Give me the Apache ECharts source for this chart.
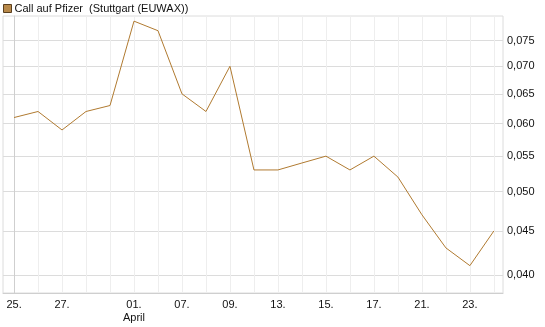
<!DOCTYPE html>
<html>
<head>
<meta charset="utf-8">
<script src="https://cdn.jsdelivr.net/npm/echarts@6/dist/echarts.min.js"></script>
<style>
  html, body { margin: 0; padding: 0; background: #fff; }
</style>
</head>
<body>
<div id="chart" style="width: 545px; height: 327px"></div>
<script>
// data points, one per trading day (index on the x axis)
const prices = [
  0.061, 0.062, 0.059, 0.062, 0.063, 0.079, 0.077, 0.065, 0.062, 0.070,
  0.053, 0.053, 0.054, 0.055, 0.053, 0.055, 0.052, 0.047, 0.043, 0.041, 0.045,
];
// labelled days: index -> label
const labelIndex = [0, 2, 5, 7, 9, 11, 13, 15, 17, 19];
const labelText = ["25.", "27.", "01.\nApril", "07.", "09.", "13.", "15.", "17.", "21.", "23."];
const yTicks = [0.04, 0.045, 0.05, 0.055, 0.06, 0.065, 0.07, 0.075];

const gridIndex = prices.map((v, i) => i);

let chart = echarts.init(document.getElementById("chart"));
let option = {
  animation: false,
  textStyle: { fontFamily: "Liberation Sans, Arial, sans-serif" },
  legend: {
    left: 3,
    top: 3,
    padding: 0,
    itemWidth: 8,
    itemHeight: 8,
    icon: "rect",
    textStyle: { fontSize: 11, color: "#111", padding: [0, 0, 0, -2] },
    data: [
      {
        name: "Call auf Pfizer  (Stuttgart (EUWAX))",
        itemStyle: { color: "#b8894a", borderColor: "#5a4020", borderWidth: 1 },
      },
    ],
  },
  grid: { left: 3, top: 16, right: 42, bottom: 34, show: true, borderColor: "#dcdcdc", borderWidth: 1 },
  xAxis: {
    type: "value",
    min: -0.46,
    max: 20.38,
    axisLine: { show: true, lineStyle: { color: "#cfcfcf" } },
    axisTick: { show: false, customValues: gridIndex },
    splitLine: { show: true, lineStyle: { color: "#eeeeee" } },
    axisLabel: {
      customValues: labelIndex,
      color: "#111",
      fontSize: 11,
      margin: 5,
      lineHeight: 13,
      formatter: (v) => labelText[labelIndex.indexOf(v)],
    },
  },
  yAxis: {
    type: "log",
    position: "right",
    min: 0.0381,
    max: 0.0801,
    axisLine: { show: true, lineStyle: { color: "#cfcfcf" } },
    axisTick: { show: false, customValues: yTicks },
    splitLine: { show: true, lineStyle: { color: "#dcdcdc" } },
    axisLabel: {
      customValues: yTicks,
      color: "#111",
      fontSize: 11,
      margin: 4,
      formatter: (v) => v.toFixed(3).replace(".", ","),
    },
  },
  series: [
    {
      name: "Call auf Pfizer  (Stuttgart (EUWAX))",
      type: "line",
      symbol: "none",
      lineStyle: { color: "#b07a30", width: 1 },
      itemStyle: { color: "#b8894a" },
      data: prices.map((v, i) => [i, v]),
    },
  ],
};
chart.setOption(option, true);
</script>
</body>
</html>
